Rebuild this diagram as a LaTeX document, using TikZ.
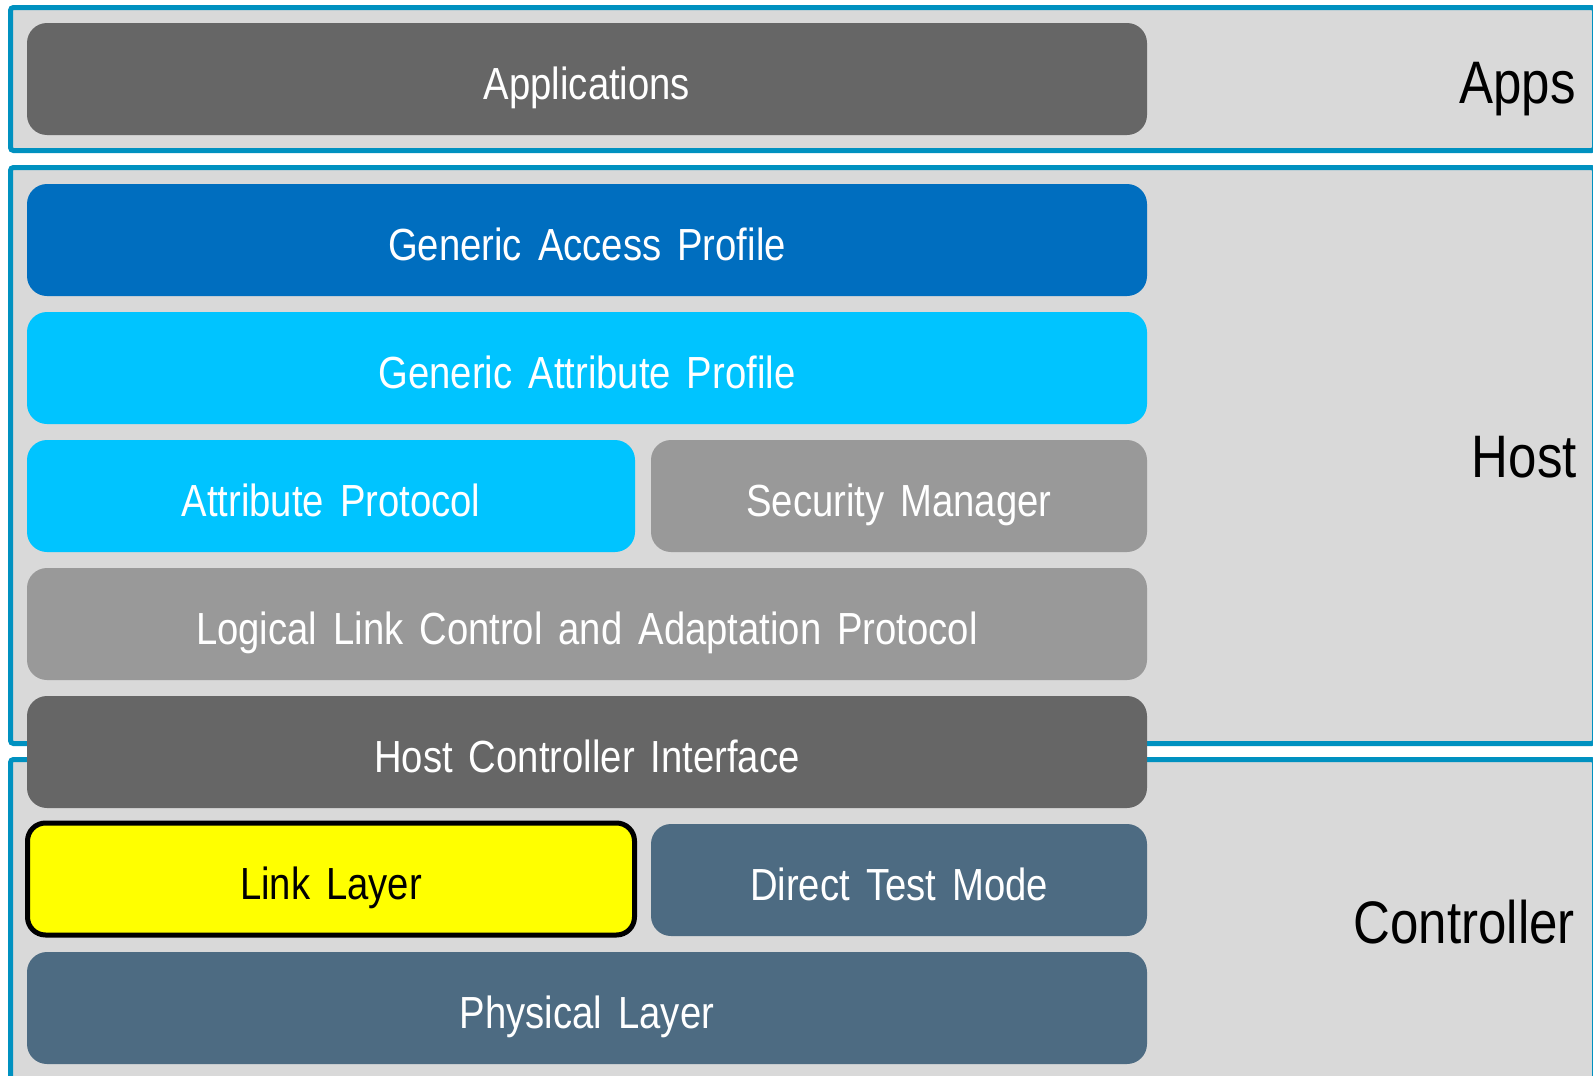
\documentclass[tikz,border=0pt]{standalone}
\usepackage{fontspec}
\setmainfont{Liberation Sans}[FakeStretch=0.85]
\definecolor{panelfill}{HTML}{D9D9D9}
\definecolor{panelline}{HTML}{0091C0}
\definecolor{darkgray}{HTML}{666666}
\definecolor{midgray}{HTML}{999999}
\definecolor{gapblue}{HTML}{006EBF}
\definecolor{cyanblue}{HTML}{00C4FF}
\definecolor{slateblue}{HTML}{4D6B82}
\definecolor{llyellow}{HTML}{FFFF00}
\newcommand\wg{\hspace{16pt}}
\begin{document}
\begin{tikzpicture}[x=1pt,y=-1pt,
  panel/.style={draw=panelline,fill=panelfill,line width=5pt,rounded corners=3pt},
  layer/.style={rounded corners=20pt,minimum height=112pt,text=white,
    font=\fontsize{45}{50}\selectfont,text height=41pt,text depth=0pt,
    inner sep=0pt,outer sep=0pt},
  side/.style={anchor=base east,font=\fontsize{60}{66}\selectfont,text=black,inner sep=0pt}]
\useasboundingbox (0,0) rectangle (1593,1076);
% panels
\draw[panel] (10.5,7.5) rectangle (1594.5,150.5);
\draw[panel] (10.5,167.5) rectangle (1594.5,743.5);
\draw[panel] (10.5,759.5) rectangle (1594.5,1085);
% side labels
\node[side] (apps) at (1576,103) {Apps};
\node[side] (host) at (1577,477) {Host};
\node[side] (ctrl) at (1575,943) {Controller};
% layers
\node[layer,fill=darkgray,minimum width=1120pt] (app) at (587,79) {Applications};
\node[layer,fill=gapblue,minimum width=1120pt] (gap) at (587,240) {Generic\wg Access\wg Profile};
\node[layer,fill=cyanblue,minimum width=1120pt] (gatt) at (587,368) {Generic\wg Attribute\wg Profile};
\node[layer,fill=cyanblue,minimum width=608pt] (att) at (331,496) {Attribute\wg Protocol};
\node[layer,fill=midgray,minimum width=496pt] (sm) at (899,496) {Security\wg Manager};
\node[layer,fill=midgray,minimum width=1120pt] (l2cap) at (587,624) {Logical\wg Link\wg Control\wg and\wg Adaptation\wg Protocol};
\node[layer,fill=darkgray,minimum width=1120pt] (hci) at (587,752) {Host\wg Controller\wg Interface};
\node[layer,fill=llyellow,draw=black,line width=5pt,text=black,minimum width=607pt,minimum height=112pt,rounded corners=18pt] (ll) at (331,879) {Link\wg Layer};
\node[layer,fill=slateblue,minimum width=496pt] (dtm) at (899,880) {Direct\wg Test\wg Mode};
\node[layer,fill=slateblue,minimum width=1120pt] (phy) at (587,1008) {Physical\wg Layer};
\end{tikzpicture}
\end{document}
